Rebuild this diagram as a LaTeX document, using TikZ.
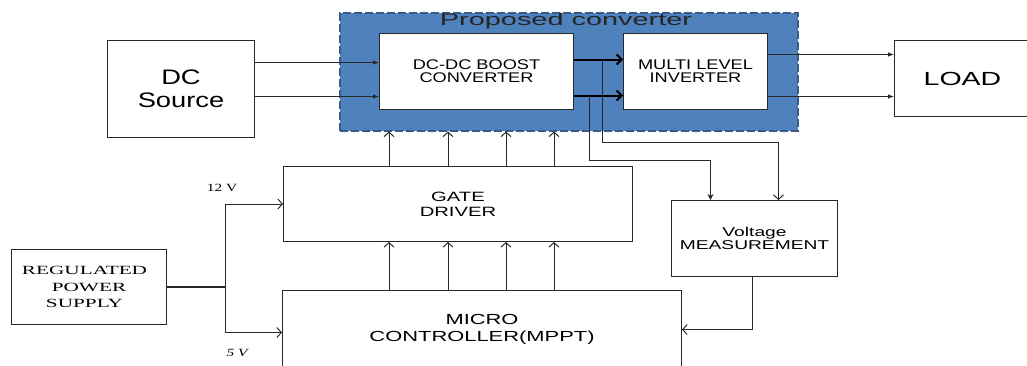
\documentclass[tikz,border=0pt]{standalone}
\usepackage{fontspec}
\setmainfont{Liberation Sans}
\newfontfamily\sfA[FakeStretch=1.3]{Liberation Sans}
\newfontfamily\sfB[FakeStretch=1.5]{Liberation Sans}
\newfontfamily\sfC[FakeStretch=1.7]{Liberation Sans}
\newfontfamily\rmA[FakeStretch=1.7]{Liberation Serif}
\newfontfamily\rmB[FakeStretch=1.4]{Liberation Serif}
\usetikzlibrary{arrows.meta,calc}
\definecolor{boxblue}{RGB}{79,129,189}
\definecolor{dashblue}{RGB}{56,93,138}
\definecolor{wire}{RGB}{40,40,40}
\tikzset{
  blk/.style={draw=wire, fill=white, line width=1pt, inner sep=0pt, align=center, anchor=north west},
  wireline/.style={draw=wire, line width=1pt},
  openarr/.style={wireline, -{Straight Barb[length=4.5pt,width=10pt]}},
  solidarr/.style={wireline, -{Latex[length=6pt,width=4.5pt]}},
  thickarr/.style={draw=black, line width=2pt, -{Straight Barb[length=5pt,width=10pt]}},
}
\begin{document}
\begin{tikzpicture}[x=1pt,y=-1pt]
\useasboundingbox (0,0) rectangle (1027,365);
% container
\node[draw=dashblue, fill=boxblue, line width=1.5pt, dash pattern=on 8pt off 3pt,
      minimum width=458pt, minimum height=118pt, inner sep=0pt, anchor=north west] (conv) at (339,12) {};
\node[font={\sfC\fontsize{17}{17}\selectfont}, text=black!85] (title) at (566,21.5) {Proposed converter};
% blocks
\node[blk, minimum width=147pt, minimum height=97pt, font={\sfA\fontsize{21}{23}\selectfont}] (dcs) at (107,40)
  {DC\\Source};
\node[blk, minimum width=194pt, minimum height=76pt, font={\sfA\fontsize{14}{13}\selectfont}] (dcdc) at (379,33)
  {DC-DC BOOST\\CONVERTER};
\node[blk, minimum width=144pt, minimum height=76pt, font={\sfA\fontsize{14}{13}\selectfont}] (mli) at (623,33)
  {MULTI LEVEL\\INVERTER};
\node[blk, minimum width=140pt, minimum height=76pt, font={\sfB\fontsize{19}{19}\selectfont}] (load) at (894,40)
  {LOAD\hspace*{4pt}};
\node[blk, minimum width=349pt, minimum height=75pt, font={\sfB\fontsize{13.5}{15}\selectfont}] (gate) at (283,166)
  {GATE\\DRIVER};
\node[blk, minimum width=166pt, minimum height=76pt, font={\sfB\fontsize{12.8}{12.5}\selectfont}] (volt) at (671,200)
  {Voltage\\MEASUREMENT};
\node[blk, minimum width=399pt, minimum height=78pt, font={\sfB\fontsize{14.6}{17}\selectfont}] (micro) at (282,290)
  {MICRO\\CONTROLLER(MPPT)};
\node[blk, minimum width=155pt, minimum height=75pt, font={\rmA\fontsize{12.5}{16.5}\selectfont}] (rps) at (11,249)
  {REGULATED\hspace*{9pt}\\POWER\hspace*{9pt}\\SUPPLY\hspace*{9pt}};
% labels
\node[font={\rmB\fontsize{11}{11}\selectfont}] (l12) at (222,188) {12 V};
\node[font={\rmB\itshape\fontsize{11}{11}\selectfont}] (l5) at (237,353) {5 V};
% DC source -> boost
\draw[solidarr] ([yshift=26.5pt]dcs.east) coordinate (s1) -- (s1 -| dcdc.west);
\draw[solidarr] ([yshift=-7.5pt]dcs.east) coordinate (s2) -- (s2 -| dcdc.west);
% boost -> inverter
\coordinate (u1) at ([yshift=12pt]dcdc.east);
\coordinate (u2) at (u1 -| mli.west);
\coordinate (w1) at ([yshift=-24pt]dcdc.east);
\coordinate (w2) at (w1 -| mli.west);
\draw[thickarr] (u1) -- (u2);
\draw[thickarr] (w1) -- (w2);
% inverter -> load
\draw[solidarr] ([yshift=17pt]mli.east) coordinate (o1) -- (o1 -| load.west);
\draw[solidarr] ([yshift=-25pt]mli.east) coordinate (o2) -- (o2 -| load.west);
% taps to voltage measurement
\coordinate (tu) at ($(u1)!0.58!(u2)$);
\coordinate (tl) at ($(w1)!0.32!(w2)$);
\coordinate (vr) at ([xshift=24pt]volt.north);
\coordinate (vl) at ([xshift=-44pt]volt.north);
\coordinate (hu) at (tu |- 0,142);
\coordinate (hl) at (tl |- 0,160);
\draw[wireline, -{Straight Barb[length=4.5pt,width=10pt]}] (tu) -- (hu) -| (vr);
\draw[wireline, -{Stealth[length=6pt,width=6pt]}] (tl) -- (hl) -| (vl);
% voltage -> micro
\draw[openarr] ([xshift=-2pt]volt.south) |- (micro.east);
% micro -> gate -> converter
\foreach \xx in {389,448,506,554}{
  \draw[openarr] (micro.north -| \xx,0) coordinate (m) -- (m |- gate.south);
  \draw[openarr] (gate.north -| \xx,0) coordinate (g) -- (g |- conv.south);
}
% power supply
\coordinate (j) at ([xshift=58pt]rps.east);
\draw[wireline, line width=1.4pt] (rps.east) -- (j);
\draw[openarr] (j) |- (gate.west);
\draw[openarr] (j) |- ([yshift=-3pt]micro.west);
\draw[wireline] (j) -- (j |- gate.west);
\end{tikzpicture}
\end{document}
